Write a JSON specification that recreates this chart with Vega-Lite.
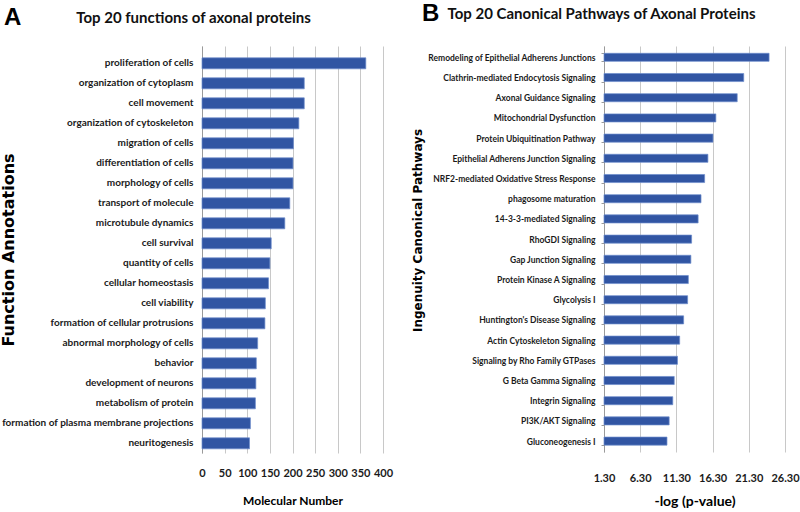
{
  "$schema": "https://vega.github.io/schema/vega-lite/v6.json",
  "background": "white",
  "padding": {"left": 0, "top": 2, "right": 0, "bottom": 0},
  "spacing": 18,
  "config": {
    "view": {"stroke": null},
    "font": "Lato",
    "axis": {"labelColor": "#1a1a1a", "titleColor": "#000000"}
  },
  "hconcat": [
    {
      "title": {"text": "A", "anchor": "start", "font": "Liberation Sans", "fontSize": 24, "fontWeight": "bold", "color": "#000000", "dx": 4, "dy": 19, "offset": 0},
      "vconcat": [
        {
          "width": 181,
          "height": 407,
          "title": {"text": "Top 20 functions of axonal proteins", "anchor": "middle", "frame": "group", "dx": -99, "offset": 20, "font": "Lato", "fontSize": 15, "fontWeight": "bold", "color": "#111111"},
          "data": {"values": [
            {"function": "proliferation of cells", "count": 362},
            {"function": "organization of cytoplasm", "count": 226},
            {"function": "cell movement", "count": 226},
            {"function": "organization of cytoskeleton", "count": 214},
            {"function": "migration of cells", "count": 202},
            {"function": "differentiation of cells", "count": 201},
            {"function": "morphology of cells", "count": 201},
            {"function": "transport of molecule", "count": 194},
            {"function": "microtubule dynamics", "count": 183},
            {"function": "cell survival", "count": 153},
            {"function": "quantity of cells", "count": 150},
            {"function": "cellular homeostasis", "count": 147},
            {"function": "cell viability", "count": 140},
            {"function": "formation of cellular protrusions", "count": 139},
            {"function": "abnormal morphology of cells", "count": 123},
            {"function": "behavior", "count": 120},
            {"function": "development of neurons", "count": 119},
            {"function": "metabolism of protein", "count": 118},
            {"function": "formation of plasma membrane projections", "count": 107},
            {"function": "neuritogenesis", "count": 105}
          ]},
          "mark": {"type": "bar", "color": "#3155a3", "stroke": "#6d8ccc", "strokeWidth": 0.7},
          "encoding": {
            "y": {
              "field": "function", "type": "nominal", "sort": null,
              "scale": {"paddingInner": 0.45, "paddingOuter": 0.4, "align": 0.74},
              "axis": {"title": "Function Annotations", "titleFont": "DejaVu Sans", "titleFontSize": 16, "titleFontWeight": "bold", "titlePadding": 0,
                       "labelFont": "Lato", "labelFontSize": 10, "labelFontWeight": "bold", "labelPadding": 9, "labelLimit": 400,
                       "ticks": false, "domain": true, "domainColor": "#9a9a9a", "minExtent": 186, "maxExtent": 186}
            },
            "x": {
              "field": "count", "type": "quantitative",
              "scale": {"domain": [0, 400], "nice": false},
              "axis": {"values": [0, 50, 100, 150, 200, 250, 300, 350, 400], "labelOverlap": false, "labelFlush": false, "grid": true, "gridColor": "#c8c8c8", "domain": false, "ticks": false,
                       "labelFont": "Lato", "labelFontSize": 11, "labelFontWeight": "bold", "labelPadding": 14,
                       "title": "Molecular Number", "titleFont": "Lato", "titleFontSize": 12, "titleFontWeight": "bold", "titlePadding": 17}
            }
          }
        }
      ]
    },
    {
      "title": {"text": "B", "anchor": "start", "font": "Liberation Sans", "fontSize": 24, "fontWeight": "bold", "color": "#000000", "dx": 11, "dy": 19, "offset": 0},
      "vconcat": [
        {
          "width": 181,
          "height": 406,
          "title": {"text": "Top 20 Canonical Pathways of Axonal Proteins", "anchor": "middle", "frame": "group", "dx": -93, "offset": 20, "font": "Lato", "fontSize": 15, "fontWeight": "bold", "color": "#111111"},
          "data": {"values": [
            {"pathway": "Remodeling of Epithelial Adherens Junctions", "logp": 24.1},
            {"pathway": "Clathrin-mediated Endocytosis Signaling", "logp": 20.6},
            {"pathway": "Axonal Guidance Signaling", "logp": 19.7},
            {"pathway": "Mitochondrial Dysfunction", "logp": 16.75},
            {"pathway": "Protein Ubiquitination Pathway", "logp": 16.35},
            {"pathway": "Epithelial Adherens Junction Signaling", "logp": 15.65},
            {"pathway": "NRF2-mediated Oxidative Stress Response", "logp": 15.2},
            {"pathway": "phagosome maturation", "logp": 14.7},
            {"pathway": "14-3-3-mediated Signaling", "logp": 14.3},
            {"pathway": "RhoGDI Signaling", "logp": 13.4},
            {"pathway": "Gap Junction Signaling", "logp": 13.3},
            {"pathway": "Protein Kinase A Signaling", "logp": 12.95},
            {"pathway": "Glycolysis I", "logp": 12.85},
            {"pathway": "Huntington's Disease Signaling", "logp": 12.3},
            {"pathway": "Actin Cytoskeleton Signaling", "logp": 11.75},
            {"pathway": "Signaling by Rho Family GTPases", "logp": 11.45},
            {"pathway": "G Beta Gamma Signaling", "logp": 11.0},
            {"pathway": "Integrin Signaling", "logp": 10.8},
            {"pathway": "PI3K/AKT Signaling", "logp": 10.3},
            {"pathway": "Gluconeogenesis I", "logp": 10.0}
          ]},
          "mark": {"type": "bar", "color": "#3155a3", "stroke": "#6d8ccc", "strokeWidth": 0.7},
          "encoding": {
            "y": {
              "field": "pathway", "type": "nominal", "sort": null,
              "scale": {"paddingInner": 0.6, "paddingOuter": 0.35, "align": 0.515},
              "axis": {"title": "Ingenuity Canonical Pathways", "titleFont": "DejaVu Sans", "titleFontSize": 12, "titleFontWeight": "bold", "titlePadding": 2, "titleY": 184,
                       "labelFont": "Lato", "labelFontSize": 8.5, "labelFontWeight": "bold", "labelPadding": 6, "labelLimit": 400,
                       "ticks": true, "tickBand": "extent", "tickSize": 3, "tickColor": "#9a9a9a", "domain": true, "domainColor": "#9a9a9a", "minExtent": 178, "maxExtent": 178}
            },
            "x": {
              "field": "logp", "type": "quantitative",
              "scale": {"domain": [1.3, 26.3], "nice": false, "zero": false},
              "axis": {"values": [1.3, 6.3, 11.3, 16.3, 21.3, 26.3], "format": ".2f", "labelOverlap": false, "labelFlush": false, "grid": true, "gridColor": "#c8c8c8", "domain": false, "ticks": false,
                       "labelFont": "Lato", "labelFontSize": 11, "labelFontWeight": "bold", "labelPadding": 20,
                       "title": "-log (p-value)", "titleFont": "Lato", "titleFontSize": 14, "titleFontWeight": "bold", "titlePadding": 11}
            },
            "x2": {"datum": 1.3}
          }
        }
      ]
    }
  ]
}
